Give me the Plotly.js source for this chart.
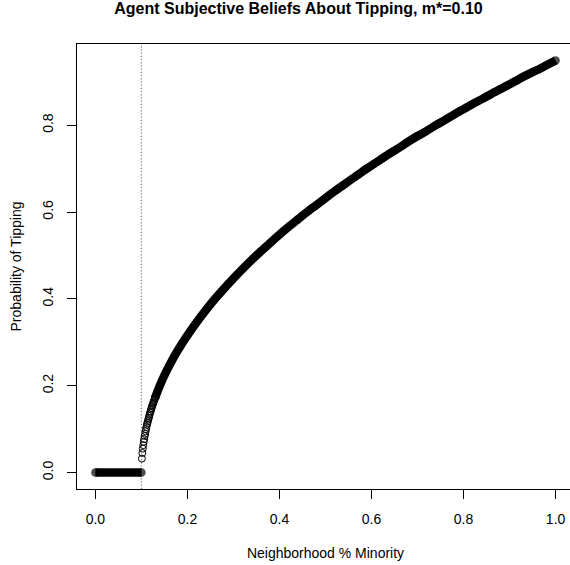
<!DOCTYPE html>
<html>
<head>
<meta charset="utf-8">
<script src="https://cdn.plot.ly/plotly-3.0.1.min.js"></script>
<style>
html, body { margin: 0; padding: 0; overflow: hidden; background: #fff; }
#chart { width: 580px; height: 565px; }
</style>
</head>
<body>
<div id="chart"></div>
<script>
// ---- data ----
const threshold = 0.10;

// flat part: probability zero below the threshold
const flatX = [0.0, 0.10];
const flatY = [0, 0];

// sparse open circles just above the threshold
const nearX = [0.101, 0.102, 0.103, 0.104, 0.105, 0.106, 0.107, 0.108, 0.109, 0.110,
               0.111, 0.112, 0.113, 0.114, 0.115, 0.116, 0.117, 0.118, 0.119, 0.120,
               0.121, 0.122, 0.123, 0.124, 0.125, 0.126, 0.127, 0.128, 0.129, 0.130];
const nearY = [0.032, 0.045, 0.055, 0.063, 0.071, 0.077, 0.084, 0.089, 0.095, 0.100,
               0.105, 0.110, 0.114, 0.118, 0.122, 0.126, 0.130, 0.134, 0.138, 0.141,
               0.145, 0.148, 0.152, 0.155, 0.158, 0.161, 0.164, 0.167, 0.170, 0.173];

// dense band of the curve
const curveX = [0.13, 0.14, 0.15, 0.16, 0.17, 0.18, 0.19, 0.20, 0.22, 0.24, 0.26, 0.28,
                0.30, 0.32, 0.34, 0.36, 0.38, 0.40, 0.42, 0.44, 0.46, 0.48, 0.50, 0.52,
                0.54, 0.56, 0.58, 0.60, 0.62, 0.64, 0.66, 0.68, 0.70, 0.72, 0.74, 0.76,
                0.78, 0.80, 0.82, 0.84, 0.86, 0.88, 0.90, 0.92, 0.94, 0.96, 0.98, 1.00];
const curveY = [0.173, 0.200, 0.224, 0.245, 0.265, 0.283, 0.300, 0.316, 0.346, 0.374, 0.400, 0.424,
                0.447, 0.469, 0.490, 0.510, 0.529, 0.548, 0.566, 0.583, 0.600, 0.616, 0.632, 0.648,
                0.663, 0.678, 0.693, 0.707, 0.721, 0.735, 0.748, 0.762, 0.775, 0.787, 0.800, 0.812,
                0.825, 0.837, 0.849, 0.860, 0.872, 0.883, 0.894, 0.906, 0.917, 0.927, 0.938, 0.949];

const xTicks = [0.0, 0.2, 0.4, 0.6, 0.8, 1.0];
const xTickText = ["0.0", "0.2", "0.4", "0.6", "0.8", "1.0"];
const yTicks = [0.0, 0.2, 0.4, 0.6, 0.8];
const yTickText = ["0.0", "0.2", "0.4", "0.6", "0.8"];

const titleText = "Agent Subjective Beliefs About Tipping, m*=0.10";
const xTitle = "Neighborhood % Minority";
const yTitle = "Probability of Tipping";

// ---- chart ----
const FONT = "Liberation Sans, Arial, Helvetica, sans-serif";
const BAND = 8.5;

// round end caps only at the ends of each band
function endSizes(n, s) { return Array.from({ length: n }, (_, i) => (i === 0 || i === n - 1) ? s : 0); }

const traces = [
  {
    x: flatX, y: flatY, type: "scatter", mode: "lines+markers",
    line: { color: "#000", width: BAND },
    marker: { color: "#000", size: endSizes(flatX.length, BAND), line: { width: 0 } },
    hoverinfo: "skip", showlegend: false
  },
  {
    x: nearX, y: nearY, type: "scatter", mode: "markers",
    marker: { symbol: "circle-open", color: "#000", size: 7, line: { color: "#000", width: 1 } },
    hoverinfo: "skip", showlegend: false
  },
  {
    x: curveX, y: curveY, type: "scatter", mode: "lines+markers",
    line: { color: "#000", width: BAND, shape: "spline", smoothing: 0.6 },
    marker: { color: "#000", size: endSizes(curveX.length, BAND), line: { width: 0 } },
    hoverinfo: "skip", showlegend: false
  }
];

const ymax = Math.max(...curveY);
const layout = {
  width: 580, height: 565,
  margin: { l: 77, r: 6, t: 44, b: 76 },
  paper_bgcolor: "#fff", plot_bgcolor: "#fff",
  font: { family: FONT, size: 14, color: "#000" },
  showlegend: false,
  title: {
    text: "<b>" + titleText + "</b>",
    font: { family: FONT, size: 16, color: "#000" },
    xref: "container", x: 298.5 / 580, xanchor: "center",
    yref: "container", y: 1 - 3 / 565, yanchor: "top"
  },
  xaxis: {
    range: [-0.04, 1.04],
    tickvals: xTicks, ticktext: xTickText,
    ticks: "outside", ticklen: 9, tickwidth: 1, tickcolor: "#000",
    ticklabelstandoff: 8,
    showline: true, mirror: true, linecolor: "#000", linewidth: 1,
    showgrid: false, zeroline: false,
    title: { text: xTitle, standoff: 22, font: { family: FONT, size: 14, color: "#000" } },
    automargin: false
  },
  yaxis: {
    range: [-0.04 * ymax, ymax * 1.04],
    tickvals: yTicks, ticktext: yTickText,
    tickangle: -90,
    ticks: "outside", ticklen: 9, tickwidth: 1, tickcolor: "#000",
    ticklabelstandoff: 8,
    showline: true, mirror: true, linecolor: "#000", linewidth: 1,
    showgrid: false, zeroline: false,
    title: { text: yTitle, standoff: 15, font: { family: FONT, size: 14, color: "#000" } },
    automargin: false
  },
  shapes: [
    {
      type: "line", xref: "x", yref: "paper",
      x0: threshold, x1: threshold, y0: 0, y1: 1,
      line: { color: "#777", width: 1.2, dash: "1.2px,2px" },
      layer: "below"
    }
  ]
};

Plotly.newPlot("chart", traces, layout, { staticPlot: true, displayModeBar: false });
</script>
</body>
</html>
